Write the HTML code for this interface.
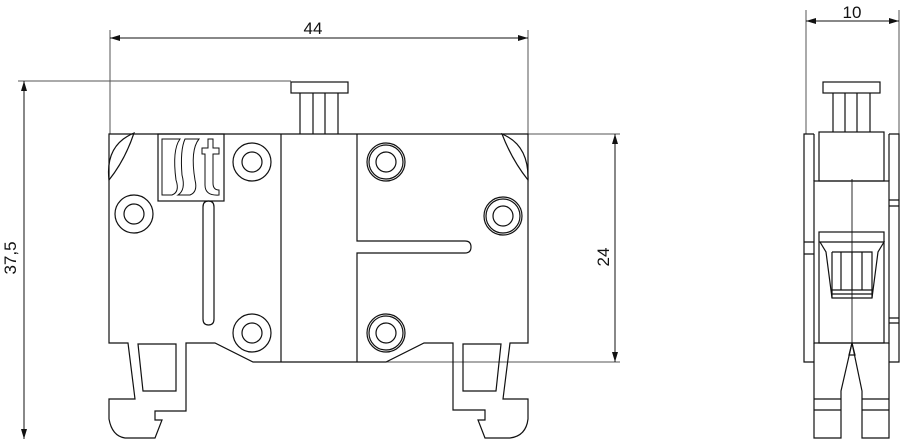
<!DOCTYPE html>
<html><head><meta charset="utf-8"><style>html,body{margin:0;padding:0;background:#fff}svg{display:block}text{font-family:"Liberation Sans",sans-serif;font-size:17px;fill:#111}</style></head><body>
<svg width="900" height="439" viewBox="0 0 900 439" xmlns="http://www.w3.org/2000/svg">
<defs><marker id="a" viewBox="0 0 10 6" refX="10" refY="3" markerWidth="10" markerHeight="6" orient="auto-start-reverse" markerUnits="userSpaceOnUse"><path d="M0,0L10,3L0,6z" fill="#111"/></marker></defs>
<g fill="none" stroke="#555" stroke-width="1">
<line x1="110" y1="30" x2="110" y2="134"/><line x1="528" y1="30" x2="528" y2="134"/>
<line x1="18" y1="81" x2="291" y2="81"/>
<line x1="528" y1="134" x2="620" y2="134"/><line x1="386" y1="362" x2="620" y2="362"/>
<line x1="806" y1="10" x2="806" y2="134"/><line x1="899" y1="10" x2="899" y2="134"/>
</g>
<g fill="none" stroke="#111" stroke-width="1" marker-start="url(#a)" marker-end="url(#a)">
<line x1="110" y1="38" x2="528" y2="38"/>
<line x1="24" y1="81" x2="24" y2="439"/>
<line x1="615" y1="134" x2="615" y2="362"/>
<line x1="806" y1="21" x2="899" y2="21"/>
</g>
<text x="313" y="34" text-anchor="middle">44</text>
<text x="852" y="18" text-anchor="middle">10</text>
<text transform="translate(16,258) rotate(-90)" text-anchor="middle">37,5</text>
<text transform="translate(609,257) rotate(-90)" text-anchor="middle">24</text>
<g fill="none" stroke="#111" stroke-width="1.2">
<!-- pin -->
<rect x="291" y="82" width="57" height="11"/>
<path d="M300,93V134M313,93V134M325,93V134M338,93V134"/>
<!-- body outline -->
<path d="M109,180V343H128L135,399H109V419Q112,436 125,438H155L162,420H155V411H186V343H215L253,362H386L424,343H453V410H485V420H478L485,438H510Q526,436 528,419V399H503L510,343H528V134H109Z"/>
<path d="M109,180Q105,145 134,133Q125,160 109,180Z"/>
<path d="M502,134Q529,145 528,180Q512,160 502,134Z"/>
<path d="M138,344L143,391H176V344Z"/><path d="M463,344V391H496L501,344Z"/>
<!-- logo -->
<rect x="158" y="134" width="66" height="67"/>
<path d="M162,139H180Q172,150 176,180Q180,192 172,195H162Z" stroke-width="1"/>
<path d="M185,139H199Q190,150 195,180Q198,192 190,195H178Q186,190 182,175Q180,150 185,139Z" stroke-width="1"/>
<path d="M208,139H213V148H219V154H213V183Q213,190 219,190V195Q205,196 205,185V154H202V148H208Z" stroke-width="1"/>
<path d="M203,207Q203,201 208.5,201Q214,201 214,207V319Q214,325 208.5,325Q203,325 203,319Z"/>
<circle cx="252" cy="162" r="19"/><circle cx="252" cy="162" r="10"/>
<circle cx="134" cy="214" r="19"/><circle cx="134" cy="214" r="10"/>
<circle cx="252" cy="333" r="19"/><circle cx="252" cy="333" r="10"/>
<line x1="281" y1="134" x2="281" y2="362"/>
<path d="M357,134V241H465Q471,241 471,247Q471,253 465,253H357V362"/>
<circle cx="386" cy="162" r="19"/><circle cx="386" cy="162" r="17"/><circle cx="386" cy="162" r="10"/>
<circle cx="503" cy="216" r="19"/><circle cx="503" cy="216" r="17"/><circle cx="503" cy="216" r="10"/>
<circle cx="386" cy="333" r="19"/><circle cx="386" cy="333" r="17"/><circle cx="386" cy="333" r="10"/>
<!-- side view -->
<rect x="823" y="82" width="57" height="11"/>
<path d="M833,93V132M845,93V132M857,93V132M870,93V132"/>
<rect x="819" y="132" width="65" height="49"/>
<path d="M814,134H804V362H814M889,134H899V362H889"/>
<path d="M804,242H814M804,254H814M889,200H899M889,206H899M889,318H899M889,323H899"/>
<rect x="814" y="181" width="75" height="162"/>
<path d="M814,134V181M889,134V181"/>
<rect x="819" y="232" width="65" height="111"/>
<path d="M820,242H884L878,252L872,298H832L826,252Z"/>
<path d="M832,252H872V298M832,252V298M841,252V290M852,252V290M862,252V290M832,290H872M832,294H872"/>
<line x1="852" y1="179" x2="852" y2="343" stroke-width="0.9"/>
<path d="M814,343V438H841V391L852,343L862,391V438H889V343"/>
<path d="M849,355L852,343L855,355Z"/>
<path d="M814,399H841M814,410H841M862,399H889M862,410H889"/>
</g>
</svg>
</body></html>
